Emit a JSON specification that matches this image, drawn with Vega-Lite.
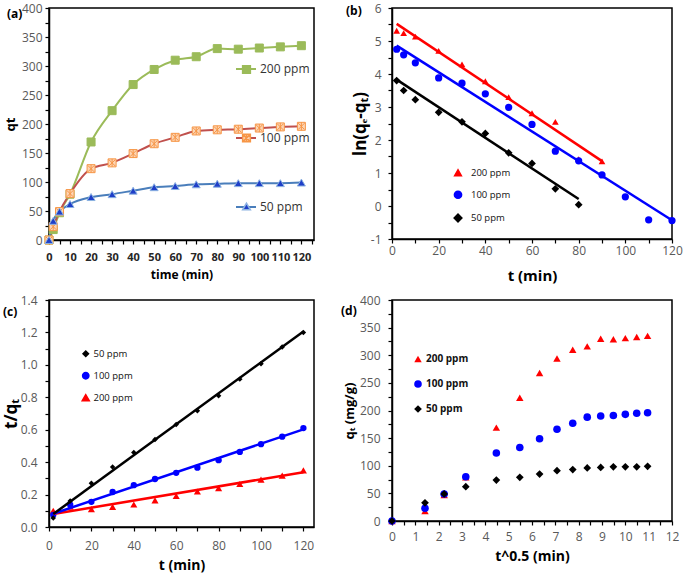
{
  "$schema": "https://vega.github.io/schema/vega-lite/v6.json",
  "background": "white",
  "padding": {"left": 1, "top": 1, "right": 0, "bottom": 0},
  "bounds": "flush",
  "columns": 2,
  "spacing": {"row": 60, "column": 78},
  "datasets": {
    "qt": [
      {"t": 0, "rt": 0, "c": "200 ppm", "q": 0},
      {"t": 2, "rt": 1.414, "c": "200 ppm", "q": 18},
      {"t": 5, "rt": 2.236, "c": "200 ppm", "q": 47},
      {"t": 10, "rt": 3.162, "c": "200 ppm", "q": 79},
      {"t": 20, "rt": 4.472, "c": "200 ppm", "q": 169},
      {"t": 30, "rt": 5.477, "c": "200 ppm", "q": 223},
      {"t": 40, "rt": 6.325, "c": "200 ppm", "q": 268},
      {"t": 50, "rt": 7.071, "c": "200 ppm", "q": 294},
      {"t": 60, "rt": 7.746, "c": "200 ppm", "q": 310},
      {"t": 70, "rt": 8.367, "c": "200 ppm", "q": 316},
      {"t": 80, "rt": 8.944, "c": "200 ppm", "q": 330},
      {"t": 90, "rt": 9.487, "c": "200 ppm", "q": 329},
      {"t": 100, "rt": 10, "c": "200 ppm", "q": 331},
      {"t": 110, "rt": 10.488, "c": "200 ppm", "q": 333},
      {"t": 120, "rt": 10.954, "c": "200 ppm", "q": 335},
      {"t": 0, "rt": 0, "c": "100 ppm", "q": 0},
      {"t": 2, "rt": 1.414, "c": "100 ppm", "q": 23},
      {"t": 5, "rt": 2.236, "c": "100 ppm", "q": 49},
      {"t": 10, "rt": 3.162, "c": "100 ppm", "q": 80},
      {"t": 20, "rt": 4.472, "c": "100 ppm", "q": 123},
      {"t": 30, "rt": 5.477, "c": "100 ppm", "q": 133},
      {"t": 40, "rt": 6.325, "c": "100 ppm", "q": 149},
      {"t": 50, "rt": 7.071, "c": "100 ppm", "q": 166},
      {"t": 60, "rt": 7.746, "c": "100 ppm", "q": 177},
      {"t": 70, "rt": 8.367, "c": "100 ppm", "q": 188},
      {"t": 80, "rt": 8.944, "c": "100 ppm", "q": 190},
      {"t": 90, "rt": 9.487, "c": "100 ppm", "q": 191},
      {"t": 100, "rt": 10, "c": "100 ppm", "q": 193},
      {"t": 110, "rt": 10.488, "c": "100 ppm", "q": 195},
      {"t": 120, "rt": 10.954, "c": "100 ppm", "q": 196},
      {"t": 0, "rt": 0, "c": "50 ppm", "q": 0},
      {"t": 2, "rt": 1.414, "c": "50 ppm", "q": 33},
      {"t": 5, "rt": 2.236, "c": "50 ppm", "q": 49},
      {"t": 10, "rt": 3.162, "c": "50 ppm", "q": 62},
      {"t": 20, "rt": 4.472, "c": "50 ppm", "q": 74},
      {"t": 30, "rt": 5.477, "c": "50 ppm", "q": 79},
      {"t": 40, "rt": 6.325, "c": "50 ppm", "q": 85},
      {"t": 50, "rt": 7.071, "c": "50 ppm", "q": 91},
      {"t": 60, "rt": 7.746, "c": "50 ppm", "q": 93},
      {"t": 70, "rt": 8.367, "c": "50 ppm", "q": 96},
      {"t": 80, "rt": 8.944, "c": "50 ppm", "q": 97},
      {"t": 90, "rt": 9.487, "c": "50 ppm", "q": 98},
      {"t": 100, "rt": 10, "c": "50 ppm", "q": 98},
      {"t": 110, "rt": 10.488, "c": "50 ppm", "q": 98},
      {"t": 120, "rt": 10.954, "c": "50 ppm", "q": 99}
    ],
    "ln": [
      {"t": 2, "c": "200 ppm", "v": 5.31},
      {"t": 5, "c": "200 ppm", "v": 5.24},
      {"t": 10, "c": "200 ppm", "v": 5.13},
      {"t": 20, "c": "200 ppm", "v": 4.7},
      {"t": 30, "c": "200 ppm", "v": 4.29},
      {"t": 40, "c": "200 ppm", "v": 3.78},
      {"t": 50, "c": "200 ppm", "v": 3.3},
      {"t": 60, "c": "200 ppm", "v": 2.81},
      {"t": 70, "c": "200 ppm", "v": 2.55},
      {"t": 80, "c": "200 ppm", "v": 1.42},
      {"t": 90, "c": "200 ppm", "v": 1.35},
      {"t": 2, "c": "100 ppm", "v": 4.75},
      {"t": 5, "c": "100 ppm", "v": 4.58},
      {"t": 10, "c": "100 ppm", "v": 4.34},
      {"t": 20, "c": "100 ppm", "v": 3.88},
      {"t": 30, "c": "100 ppm", "v": 3.72},
      {"t": 40, "c": "100 ppm", "v": 3.4},
      {"t": 50, "c": "100 ppm", "v": 2.99},
      {"t": 60, "c": "100 ppm", "v": 2.47},
      {"t": 70, "c": "100 ppm", "v": 1.66},
      {"t": 80, "c": "100 ppm", "v": 1.37},
      {"t": 90, "c": "100 ppm", "v": 0.94},
      {"t": 100, "c": "100 ppm", "v": 0.28},
      {"t": 110, "c": "100 ppm", "v": -0.42},
      {"t": 120, "c": "100 ppm", "v": -0.44},
      {"t": 2, "c": "50 ppm", "v": 3.8},
      {"t": 5, "c": "50 ppm", "v": 3.5},
      {"t": 10, "c": "50 ppm", "v": 3.22},
      {"t": 20, "c": "50 ppm", "v": 2.84},
      {"t": 30, "c": "50 ppm", "v": 2.55},
      {"t": 40, "c": "50 ppm", "v": 2.2},
      {"t": 50, "c": "50 ppm", "v": 1.61},
      {"t": 60, "c": "50 ppm", "v": 1.29},
      {"t": 70, "c": "50 ppm", "v": 0.52},
      {"t": 80, "c": "50 ppm", "v": 0.04}
    ],
    "lnfit": [
      {"t": 2, "c": "200 ppm", "v": 5.52},
      {"t": 90, "c": "200 ppm", "v": 1.36},
      {"t": 2, "c": "100 ppm", "v": 4.86},
      {"t": 120, "c": "100 ppm", "v": -0.43},
      {"t": 2, "c": "50 ppm", "v": 3.83},
      {"t": 80, "c": "50 ppm", "v": 0.21}
    ],
    "tq": [
      {"t": 2, "c": "200 ppm", "v": 0.1},
      {"t": 10, "c": "200 ppm", "v": 0.125},
      {"t": 20, "c": "200 ppm", "v": 0.11},
      {"t": 30, "c": "200 ppm", "v": 0.124},
      {"t": 40, "c": "200 ppm", "v": 0.139},
      {"t": 50, "c": "200 ppm", "v": 0.164},
      {"t": 60, "c": "200 ppm", "v": 0.191},
      {"t": 70, "c": "200 ppm", "v": 0.219},
      {"t": 80, "c": "200 ppm", "v": 0.24},
      {"t": 90, "c": "200 ppm", "v": 0.265},
      {"t": 100, "c": "200 ppm", "v": 0.292},
      {"t": 110, "c": "200 ppm", "v": 0.317},
      {"t": 120, "c": "200 ppm", "v": 0.349},
      {"t": 2, "c": "100 ppm", "v": 0.075},
      {"t": 10, "c": "100 ppm", "v": 0.137},
      {"t": 20, "c": "100 ppm", "v": 0.155},
      {"t": 30, "c": "100 ppm", "v": 0.216},
      {"t": 40, "c": "100 ppm", "v": 0.258},
      {"t": 50, "c": "100 ppm", "v": 0.296},
      {"t": 60, "c": "100 ppm", "v": 0.334},
      {"t": 70, "c": "100 ppm", "v": 0.366},
      {"t": 80, "c": "100 ppm", "v": 0.412},
      {"t": 90, "c": "100 ppm", "v": 0.463},
      {"t": 100, "c": "100 ppm", "v": 0.511},
      {"t": 110, "c": "100 ppm", "v": 0.557},
      {"t": 120, "c": "100 ppm", "v": 0.61},
      {"t": 2, "c": "50 ppm", "v": 0.055},
      {"t": 10, "c": "50 ppm", "v": 0.16},
      {"t": 20, "c": "50 ppm", "v": 0.27},
      {"t": 30, "c": "50 ppm", "v": 0.37},
      {"t": 40, "c": "50 ppm", "v": 0.46},
      {"t": 50, "c": "50 ppm", "v": 0.54},
      {"t": 60, "c": "50 ppm", "v": 0.632},
      {"t": 70, "c": "50 ppm", "v": 0.717},
      {"t": 80, "c": "50 ppm", "v": 0.81},
      {"t": 90, "c": "50 ppm", "v": 0.912},
      {"t": 100, "c": "50 ppm", "v": 1.007},
      {"t": 110, "c": "50 ppm", "v": 1.11},
      {"t": 120, "c": "50 ppm", "v": 1.2}
    ],
    "tqfit": [
      {"t": 2, "c": "200 ppm", "v": 0.08},
      {"t": 120, "c": "200 ppm", "v": 0.338},
      {"t": 2, "c": "100 ppm", "v": 0.082},
      {"t": 120, "c": "100 ppm", "v": 0.602},
      {"t": 2, "c": "50 ppm", "v": 0.08},
      {"t": 120, "c": "50 ppm", "v": 1.206}
    ]
  },
  "concat": [
    {
      "width": 265,
      "height": 232,
      "title": {"text": "(a)", "anchor": "start", "frame": "group", "align": "left", "baseline": "top", "fontSize": 12, "fontWeight": "bold", "color": "#000", "offset": 0, "dx": -42, "dy": 19},
      "layer": [
        {
          "data": {"name": "qt"},
          "transform": [{"filter": "datum.t >= 0"}],
          "mark": {"type": "line", "interpolate": "monotone", "strokeWidth": 2},
          "encoding": {
            "x": {"field": "t", "type": "quantitative", "scale": {"domain": [0, 126], "nice": false, "zero": false},
              "axis": {"values": [0,5,10,15,20,25,30,35,40,45,50,55,60,65,70,75,80,85,90,95,100,105,110,115,120,125], "labelExpr": "datum.value % 10 == 0 ? datum.label : ''", "labelOverlap": false, "title": "time (min)", "titleFontSize": 12, "titlePadding": 7, "labelPadding": 7, "labelColor": "#262626", "labelFontWeight": "bold", "labelFontSize": 11}},
            "y": {"field": "q", "type": "quantitative", "scale": {"domain": [0, 400], "nice": false},
              "axis": {"values": [0,25,50,75,100,125,150,175,200,225,250,275,300,325,350,375,400], "labelExpr": "datum.value % 50 == 0 ? datum.label : ''", "labelOverlap": false, "title": "qt", "titleFontSize": 13, "titlePadding": 4, "labelPadding": 3}},
            "stroke": {"field": "c", "type": "nominal", "sort": ["200 ppm", "100 ppm", "50 ppm"], "scale": {"range": ["#9BBB59", "#C0504D", "#4A7EBB"]},
              "legend": {"orient": "none", "legendX": 186, "legendY": 50, "symbolType": "stroke", "symbolSize": 400, "symbolStrokeWidth": 2, "labelFontSize": 12, "labelColor": "#333", "labelOffset": 3, "rowPadding": 52, "title": null}}
          }
        },
        {
          "data": {"name": "qt"},
          "mark": {"type": "point", "filled": false, "strokeWidth": 1, "opacity": 1, "size": 64},
          "encoding": {
            "x": {"field": "t", "type": "quantitative",
              "axis": {"values": [0,5,10,15,20,25,30,35,40,45,50,55,60,65,70,75,80,85,90,95,100,105,110,115,120,125], "labelExpr": "datum.value % 10 == 0 ? datum.label : ''", "labelOverlap": false, "title": "time (min)", "titleFontSize": 12, "titlePadding": 7, "labelPadding": 7, "labelColor": "#262626", "labelFontWeight": "bold", "labelFontSize": 11}},
            "y": {"field": "q", "type": "quantitative",
              "axis": {"values": [0,25,50,75,100,125,150,175,200,225,250,275,300,325,350,375,400], "labelExpr": "datum.value % 50 == 0 ? datum.label : ''", "labelOverlap": false, "title": "qt", "titleFontSize": 13, "titlePadding": 4, "labelPadding": 3}},
            "shape": {"field": "c", "type": "nominal", "scale": {"domain": ["200 ppm", "100 ppm", "50 ppm"], "range": ["square", "M-1,-1H1V1H-1Z M-0.8,-0.8L0.8,0.8 M0.8,-0.8L-0.8,0.8 M0,-1V1", "triangle-up"]},
              "legend": {"orient": "none", "legendX": 191.5, "legendY": 55.5, "symbolSize": 60, "labelExpr": "''", "labelFontSize": 12, "rowPadding": 54.5, "title": null}},
            "color": {"field": "c", "type": "nominal", "scale": {"domain": ["200 ppm", "100 ppm", "50 ppm"], "range": ["#9BBB59", "#F79646", "#8DB3E2"]},
              "legend": {"orient": "none", "legendX": 191.5, "legendY": 55.5, "symbolSize": 60, "labelExpr": "''", "labelFontSize": 12, "rowPadding": 54.5, "title": null}},
            "fill": {"field": "c", "type": "nominal", "scale": {"domain": ["200 ppm", "100 ppm", "50 ppm"], "range": ["#9BBB59", "#FCD5B5", "#1F3FC8"]},
              "legend": {"orient": "none", "legendX": 191.5, "legendY": 55.5, "symbolSize": 60, "labelExpr": "''", "labelFontSize": 12, "rowPadding": 54.5, "title": null}}
          }
        }
      ]
    },
    {
      "width": 280,
      "height": 231,
      "title": {"text": "(b)", "anchor": "start", "frame": "group", "align": "left", "baseline": "top", "fontSize": 12, "fontWeight": "bold", "color": "#000", "offset": 0, "dx": -46, "dy": 16},
      "layer": [
        {
          "data": {"name": "ln"},
          "mark": {"type": "point", "filled": true, "opacity": 1},
          "encoding": {
            "x": {"field": "t", "type": "quantitative", "scale": {"domain": [0, 120], "nice": false, "zero": false},
              "axis": {"values": [0,10,20,30,40,50,60,70,80,90,100,110,120], "labelExpr": "datum.value % 20 == 0 ? datum.label : ''", "labelOverlap": false, "title": "t (min)", "titleFontSize": 15, "titlePadding": 12}},
            "y": {"field": "v", "type": "quantitative", "scale": {"domain": [-1, 6], "nice": false, "zero": false},
              "axis": {"values": [-1,-0.5,0,0.5,1,1.5,2,2.5,3,3.5,4,4.5,5,5.5,6], "labelExpr": "datum.value == round(datum.value) ? '' + datum.value : ''", "labelOverlap": false, "title": "ln(qₑ-qₜ)", "titleFontSize": 17, "titlePadding": 1, "labelPadding": 7}},
            "shape": {"field": "c", "type": "nominal", "scale": {"domain": ["200 ppm", "100 ppm", "50 ppm"], "range": ["triangle-up", "circle", "diamond"]},
              "legend": {"orient": "none", "legendX": 61, "legendY": 160, "symbolSize": 40, "labelFontSize": 9.5, "labelColor": "#111", "labelOffset": 8, "rowPadding": 9, "title": null}},
            "color": {"field": "c", "type": "nominal", "scale": {"domain": ["200 ppm", "100 ppm", "50 ppm"], "range": ["#FF0000", "#0000FF", "#000000"]},
              "legend": {"orient": "none", "legendX": 61, "legendY": 160, "symbolSize": 40, "labelFontSize": 9.5, "labelColor": "#111", "labelOffset": 8, "rowPadding": 9, "title": null}},
            "size": {"field": "c", "type": "nominal", "scale": {"domain": ["200 ppm", "100 ppm", "50 ppm"], "range": [45, 60, 28]}, "legend": null}
          }
        },
        {
          "data": {"name": "lnfit"},
          "mark": {"type": "line", "strokeWidth": 2.5},
          "encoding": {
            "x": {"field": "t", "type": "quantitative",
              "axis": {"values": [0,10,20,30,40,50,60,70,80,90,100,110,120], "labelExpr": "datum.value % 20 == 0 ? datum.label : ''", "labelOverlap": false, "title": "t (min)", "titleFontSize": 15, "titlePadding": 12}},
            "y": {"field": "v", "type": "quantitative",
              "axis": {"values": [-1,-0.5,0,0.5,1,1.5,2,2.5,3,3.5,4,4.5,5,5.5,6], "labelExpr": "datum.value == round(datum.value) ? '' + datum.value : ''", "labelOverlap": false, "title": "ln(qₑ-qₜ)", "titleFontSize": 17, "titlePadding": 1, "labelPadding": 7}},
            "stroke": {"field": "c", "type": "nominal", "scale": {"domain": ["200 ppm", "100 ppm", "50 ppm"], "range": ["#FF0000", "#0000FF", "#000000"]}, "legend": null}
          }
        }
      ]
    },
    {
      "width": 265,
      "height": 227,
      "title": {"text": "(c)", "anchor": "start", "frame": "group", "align": "left", "baseline": "top", "fontSize": 12, "fontWeight": "bold", "color": "#000", "offset": 0, "dx": -46, "dy": 25},
      "layer": [
        {
          "data": {"name": "tq"},
          "mark": {"type": "point", "filled": true, "opacity": 1},
          "encoding": {
            "x": {"field": "t", "type": "quantitative", "scale": {"domain": [0, 125], "nice": false, "zero": false},
              "axis": {"values": [0,10,20,30,40,50,60,70,80,90,100,110,120], "labelExpr": "datum.value % 20 == 0 ? datum.label : ''", "labelOverlap": false, "title": "t (min)", "titleFontSize": 14, "titlePadding": 7, "labelPadding": 9}},
            "y": {"field": "v", "type": "quantitative", "scale": {"domain": [0, 1.4], "nice": false},
              "axis": {"values": [0,0.1,0.2,0.3,0.4,0.5,0.6,0.7,0.8,0.9,1,1.1,1.2,1.3,1.4], "labelExpr": "round(datum.value*10) % 2 == 0 ? format(datum.value, '.1f') : ''", "labelOverlap": false, "title": "t/qₜ", "titleFontSize": 17, "titlePadding": 0, "labelPadding": 8}},
            "shape": {"field": "c", "type": "nominal", "scale": {"domain": ["50 ppm", "100 ppm", "200 ppm"], "range": ["diamond", "circle", "triangle-up"]},
              "legend": {"orient": "none", "legendX": 32, "legendY": 49, "symbolSize": 35, "labelFontSize": 9.5, "labelColor": "#111", "labelOffset": 3, "rowPadding": 9, "title": null}},
            "color": {"field": "c", "type": "nominal", "scale": {"domain": ["50 ppm", "100 ppm", "200 ppm"], "range": ["#000000", "#0000FF", "#FF0000"]},
              "legend": {"orient": "none", "legendX": 32, "legendY": 49, "symbolSize": 35, "labelFontSize": 9.5, "labelColor": "#111", "labelOffset": 3, "rowPadding": 9, "title": null}},
            "size": {"field": "c", "type": "nominal", "scale": {"domain": ["50 ppm", "100 ppm", "200 ppm"], "range": [30, 50, 35]}, "legend": null}
          }
        },
        {
          "data": {"name": "tqfit"},
          "mark": {"type": "line", "strokeWidth": 2.5},
          "encoding": {
            "x": {"field": "t", "type": "quantitative",
              "axis": {"values": [0,10,20,30,40,50,60,70,80,90,100,110,120], "labelExpr": "datum.value % 20 == 0 ? datum.label : ''", "labelOverlap": false, "title": "t (min)", "titleFontSize": 14, "titlePadding": 7, "labelPadding": 9}},
            "y": {"field": "v", "type": "quantitative",
              "axis": {"values": [0,0.1,0.2,0.3,0.4,0.5,0.6,0.7,0.8,0.9,1,1.1,1.2,1.3,1.4], "labelExpr": "round(datum.value*10) % 2 == 0 ? format(datum.value, '.1f') : ''", "labelOverlap": false, "title": "t/qₜ", "titleFontSize": 17, "titlePadding": 0, "labelPadding": 8}},
            "stroke": {"field": "c", "type": "nominal", "scale": {"domain": ["50 ppm", "100 ppm", "200 ppm"], "range": ["#000000", "#0000FF", "#FF0000"]}, "legend": null}
          }
        }
      ]
    },
    {
      "width": 280,
      "height": 221,
      "title": {"text": "(d)", "anchor": "start", "frame": "group", "align": "left", "baseline": "top", "fontSize": 12, "fontWeight": "bold", "color": "#000", "offset": 0, "dx": -51, "dy": 24},
      "data": {"name": "qt"},
      "mark": {"type": "point", "filled": true, "opacity": 1},
      "encoding": {
        "x": {"field": "rt", "type": "quantitative", "scale": {"domain": [0, 12], "nice": false, "zero": false},
          "axis": {"values": [0,0.5,1,1.5,2,2.5,3,3.5,4,4.5,5,5.5,6,6.5,7,7.5,8,8.5,9,9.5,10,10.5,11,11.5,12], "labelExpr": "datum.value == round(datum.value) ? '' + datum.value : ''", "labelOverlap": false, "title": "t^0.5 (min)", "titleFontSize": 14, "titlePadding": 7, "labelPadding": 6}},
        "y": {"field": "q", "type": "quantitative", "scale": {"domain": [0, 400], "nice": false},
          "axis": {"values": [0,25,50,75,100,125,150,175,200,225,250,275,300,325,350,375,400], "labelExpr": "datum.value % 50 == 0 ? datum.label : ''", "labelOverlap": false, "title": "qₜ (mg/g)", "titleFontSize": 13, "titlePadding": 3, "labelPadding": 8}},
        "shape": {"field": "c", "type": "nominal", "scale": {"domain": ["200 ppm", "100 ppm", "50 ppm"], "range": ["triangle-up", "circle", "diamond"]},
          "legend": {"orient": "none", "legendX": 21, "legendY": 54, "symbolSize": 45, "labelFontSize": 10, "labelFontWeight": "bold", "labelColor": "#111", "labelOffset": 3, "rowPadding": 15, "title": null}},
        "color": {"field": "c", "type": "nominal", "scale": {"domain": ["200 ppm", "100 ppm", "50 ppm"], "range": ["#FF0000", "#0000FF", "#000000"]},
          "legend": {"orient": "none", "legendX": 21, "legendY": 54, "symbolSize": 45, "labelFontSize": 10, "labelFontWeight": "bold", "labelColor": "#111", "labelOffset": 3, "rowPadding": 15, "title": null}},
        "size": {"field": "c", "type": "nominal", "scale": {"domain": ["200 ppm", "100 ppm", "50 ppm"], "range": [55, 60, 40]}, "legend": null}
      }
    }
  ],
  "resolve": {
    "scale": {"x": "independent", "y": "independent", "color": "independent", "shape": "independent", "fill": "independent", "stroke": "independent", "size": "independent"},
    "legend": {"color": "independent", "shape": "independent", "fill": "independent", "stroke": "independent", "size": "independent"}
  },
  "config": {
    "font": "Open Sans",
    "view": {"stroke": "#000", "strokeWidth": 1.5},
    "axis": {"grid": false, "domainColor": "#000", "domainWidth": 1.5, "tickColor": "#000", "tickWidth": 1.2, "tickSize": 4, "labelColor": "#595959", "labelFontSize": 12, "labelFont": "Open Sans", "titleFont": "Open Sans", "titleFontWeight": "bold", "titleColor": "#000", "labelOverlap": false, "labelFlush": false, "labelBound": false, "labelPadding": 2},
    "legend": {"labelFont": "Open Sans", "padding": 0},
    "title": {"font": "Open Sans"}
  }
}
